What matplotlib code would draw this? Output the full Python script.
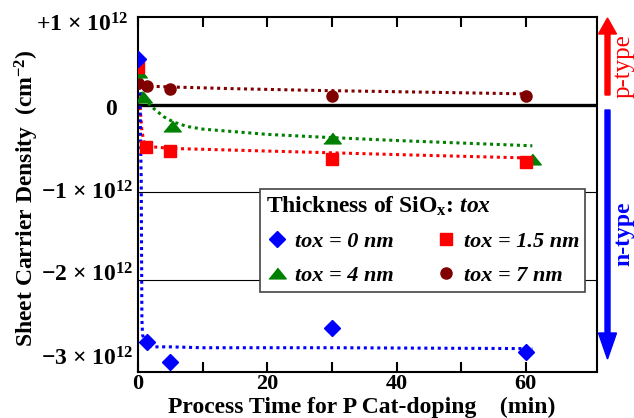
import matplotlib
matplotlib.use("Agg")
import matplotlib.pyplot as plt
from matplotlib.patches import FancyArrow
from matplotlib.transforms import IdentityTransform, offset_copy, blended_transform_factory

plt.rcParams["font.family"] = ["Liberation Serif", "DejaVu Serif"]
plt.rcParams["font.weight"] = "bold"
plt.rcParams["mathtext.fontset"] = "custom"
plt.rcParams["mathtext.rm"] = "Liberation Serif:bold"
plt.rcParams["mathtext.bf"] = "Liberation Serif:bold"
plt.rcParams["mathtext.it"] = "Liberation Serif:italic"
plt.rcParams["mathtext.bfit"] = "Liberation Serif:bold:italic"

# measured sheet carrier density (units of 1e12 cm^-2) vs. process time (min)
t_0nm = [0, 1.4, 5, 30, 60]
n_0nm = [0.52, -2.70, -2.93, -2.55, -2.82]
t_15nm = [0, 1.3, 5, 30, 60]
n_15nm = [0.43, -0.48, -0.53, -0.62, -0.66]
t_4nm = [0, 0.7, 5.3, 30, 61]
n_4nm = [0.37, 0.09, -0.24, -0.38, -0.62]
t_7nm = [0, 1.4, 5, 30, 60]
n_7nm = [0.24, 0.21, 0.18, 0.10, 0.10]

# fitted trend curves
fit_t_0nm = [0, 0.3, 0.5, 0.57, 0.6, 0.7, 1.0, 1.5, 2.5, 5, 10, 30, 61]
fit_n_0nm = [0.52, 0.1, -0.9, -2.0, -2.45, -2.62, -2.70, -2.74, -2.76, -2.76, -2.77, -2.77, -2.78]
fit_t_15nm = [0, 0.3, 0.6, 0.9, 1.3, 2, 3.5, 5, 10, 20, 30, 45, 61]
fit_n_15nm = [0.43, 0.0, -0.3, -0.42, -0.46, -0.48, -0.49, -0.50, -0.51, -0.53, -0.55, -0.58, -0.61]
fit_t_4nm = [0, 0.4, 0.8, 1.5, 2.5, 4, 5.5, 7.6, 10, 15, 20, 28, 40, 61]
fit_n_4nm = [0.37, 0.2, 0.08, 0.02, -0.05, -0.14, -0.2, -0.25, -0.28, -0.31, -0.34, -0.37, -0.41, -0.47]
fit_t_7nm = [0, 0.7, 1.4, 5, 15, 28, 45, 61]
fit_n_7nm = [0.27, 0.23, 0.21, 0.20, 0.18, 0.16, 0.14, 0.12]

labels = ["tox = 0 nm", "tox = 1.5 nm", "tox = 4 nm", "tox = 7 nm"]

ytick_vals = [1, 0, -1, -2, -3]
ytick_text = [r"+1 × 10$^{\mathbf{12}}$", "0", r"−1 × 10$^{\mathbf{12}}$",
              r"−2 × 10$^{\mathbf{12}}$", r"−3 × 10$^{\mathbf{12}}$"]
xtick_major = [0, 20, 40, 60]
xtick_minor = [10, 30, 50]

blue, red, green, brown = "#0000ff", "#ff0000", "#008000", "#800000"

fig = plt.figure(figsize=(6.34, 4.18), dpi=100)
ax = fig.add_axes([0.2177, 0.1093, 0.7239, 0.8507])
ax.set_xlim(0, 71)
ax.set_ylim(-3.05, 1.0)

# reference lines
ax.axhline(0, color="black", lw=2.4, zorder=1.5)
for g in (-1, -2):
    ax.axhline(g, color="black", lw=0.8, zorder=1)

dot = dict(linestyle=(0, (1, 1.2)), lw=2.2, zorder=2)
ax.plot(fit_t_7nm, fit_n_7nm, color=brown, **dot)
ax.plot(fit_t_4nm, fit_n_4nm, color=green, **dot)
ax.plot(fit_t_15nm, fit_n_15nm, color=red, **dot)
ax.plot(fit_t_0nm, fit_n_0nm, color=blue, **dot)

tri = [(-1, -0.62), (1, -0.62), (0, 0.62)]
h7, = ax.plot(t_7nm, n_7nm, ls="none", marker="o", ms=8, color=brown, label=labels[3], zorder=3)
h4, = ax.plot(t_4nm, n_4nm, ls="none", marker=tri, ms=12.5, color=green, label=labels[2], zorder=3)
h15, = ax.plot(t_15nm, n_15nm, ls="none", marker="s", ms=8.6, color=red, label=labels[1], zorder=3)
h0, = ax.plot(t_0nm, n_0nm, ls="none", marker="D", ms=8, color=blue, label=labels[0], zorder=3)

# axes styling
for s in ax.spines.values():
    s.set_linewidth(1.5)
ax.set_xticks(xtick_major)
ax.set_xticks(xtick_minor, minor=True)
ax.set_xticklabels([str(v) for v in xtick_major])
ax.tick_params(axis="x", which="both", direction="in", top=True, length=7.2, width=1.5,
               pad=1.5, labelsize=16)
ax.set_yticks(ytick_vals)
ax.tick_params(axis="y", length=0, labelleft=False)

yl_right = [128, 117, 133, 133, 133]   # right edge of label, px
yl_shift = [-6, -2, 2, 8, 12]          # vertical nudge, px
btr = blended_transform_factory(fig.transFigure, ax.transData)
for v, s, xr, dy in zip(ytick_vals, ytick_text, yl_right, yl_shift):
    tr = offset_copy(btr, fig=fig, x=0, y=dy, units="dots")
    ax.text(xr / 634, v, s, transform=tr, ha="right", va="center_baseline",
            fontsize=17, fontweight="bold", clip_on=False)

ax.set_xlabel("Process Time for P Cat-doping    (min)", fontsize=17, fontweight="bold")
ax.xaxis.set_label_coords((361.5 - 138) / 459, -0.068)
ax.set_ylabel(r"Sheet Carrier Density  (cm$^{\mathbf{-2}}$)", fontsize=17, fontweight="bold")
ax.yaxis.set_label_coords((41 - 138) / 459, 0.49)

leg_x0 = (260 - 138) / 459
leg_y0 = (372.3 - 291) / 355.6
leg_y1 = (372.3 - 189) / 355.6
leg = ax.legend(handles=[h0, h4, h15, h7], ncol=2, loc="upper left",
                bbox_to_anchor=(leg_x0, leg_y1),
                borderaxespad=0, frameon=True, fancybox=False,
                edgecolor="#444444", framealpha=1, handlelength=1.0, handletextpad=0.3,
                columnspacing=1.85, labelspacing=0.6, borderpad=0.27,
                title=r"Thickness of SiO$_\mathbf{x}$: $\mathbfit{tox}$",
                alignment="left",
                prop=dict(family="Liberation Serif", weight="bold", style="italic", size=16),
                title_fontproperties=dict(family="Liberation Serif", weight="bold", size=17))
leg.get_frame().set_linewidth(1.2)
leg.set_zorder(5)

# carrier type indicators
fig.add_artist(FancyArrow(607.5, 418 - 95, 0, 77, width=5, head_width=18, head_length=16,
                          length_includes_head=True, color=red, transform=IdentityTransform()))
fig.add_artist(FancyArrow(607.5, 418 - 110, 0, -249, width=5, head_width=18, head_length=26,
                          length_includes_head=True, color=blue, transform=IdentityTransform()))
fig.text(624 / 634, (418 - 66.5) / 418, "p-type", color=red, rotation=90, ha="center", va="center",
         fontsize=18, fontweight="normal")
fig.text(624 / 634, (418 - 234) / 418, "n-type", color=blue, rotation=90, ha="center", va="center",
         fontsize=17, fontweight="bold")

fig.savefig("out.png", dpi=100)
